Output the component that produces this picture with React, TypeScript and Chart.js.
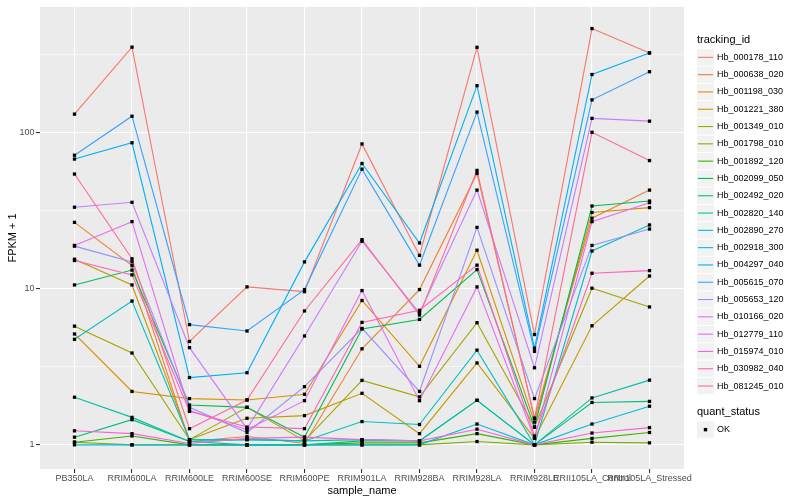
import React, { useEffect, useRef } from 'react';
import { Chart, registerables } from 'chart.js';

Chart.register(...registerables);

const samples = [
  'PB350LA', 'RRIM600LA', 'RRIM600LE', 'RRIM600SE', 'RRIM600PE', 'RRIM901LA',
  'RRIM928BA', 'RRIM928LA', 'RRIM928LE', 'RRII105LA_Control', 'RRII105LA_Stressed',
];

const trackingIds = [
  'Hb_000178_110', 'Hb_000638_020', 'Hb_001198_030', 'Hb_001221_380', 'Hb_001349_010',
  'Hb_001798_010', 'Hb_001892_120', 'Hb_002099_050', 'Hb_002492_020', 'Hb_002820_140',
  'Hb_002890_270', 'Hb_002918_300', 'Hb_004297_040', 'Hb_005615_070', 'Hb_005653_120',
  'Hb_010166_020', 'Hb_012779_110', 'Hb_015974_010', 'Hb_030982_040', 'Hb_081245_010',
];

const hb_000178_110 = [132, 355, 4.6, 10.3, 9.6, 85, 16.4, 354, 5.1, 467, 326];
const hb_000638_020 = [26.7, 14.1, 1.05, 1.13, 1.02, 4.13, 9.9, 55, 1.48, 28.4, 43];
const hb_001198_030 = [5.14, 2.2, 1.98, 1.94, 2.11, 8.43, 3.19, 17.7, 1.4, 30.9, 33.2];
const hb_001221_380 = [15.5, 10.6, 1.08, 1.48, 1.54, 2.14, 1.18, 3.35, 1.1, 5.8, 12.1];
const hb_001349_010 = [5.77, 3.88, 1.08, 1.74, 1.06, 2.59, 2.03, 6.07, 1.3, 10.1, 7.66];
const hb_001798_010 = [1.04, 1.0, 1.0, 1.0, 1.0, 1.0, 1.0, 1.05, 1.0, 1.04, 1.03];
const hb_001892_120 = [1.04, 1.14, 1.0, 1.0, 1.0, 1.03, 1.03, 1.18, 1.0, 1.1, 1.2];
const hb_002099_050 = [10.6, 13.2, 1.8, 1.74, 1.12, 5.53, 6.37, 13.3, 1.3, 34, 36.6];
const hb_002492_020 = [1.12, 1.45, 1.05, 1.0, 1.0, 1.06, 1.06, 1.93, 1.0, 1.87, 1.9];
const hb_002820_140 = [2.02, 1.5, 1.05, 1.08, 1.06, 1.08, 1.06, 1.93, 1.0, 2.0, 2.6];
const hb_002890_270 = [4.75, 8.36, 1.08, 1.08, 1.06, 1.41, 1.35, 4.05, 1.0, 17.5, 25.7];
const hb_002918_300 = [1.0, 1.0, 1.0, 1.0, 1.0, 1.0, 1.0, 1.36, 1.0, 1.36, 1.77];
const hb_004297_040 = [68, 86.5, 2.7, 2.9, 14.9, 63.7, 19.7, 201, 4.17, 237, 326];
const hb_005615_070 = [72, 128, 5.9, 5.37, 9.9, 58.6, 14.2, 136, 3.98, 163, 247];
const hb_005653_120 = [18.8, 14.9, 1.74, 1.2, 2.36, 5.58, 2.2, 24.8, 1.98, 19, 24.2];
const hb_010166_020 = [33.4, 35.9, 4.2, 1.27, 4.99, 20.2, 7.0, 43, 3.12, 124, 119];
const hb_012779_110 = [19, 27, 1.66, 1.25, 1.92, 9.76, 1.92, 10.3, 1.1, 27, 35.7];
const hb_015974_010 = [1.23, 1.18, 1.02, 1.1, 1.12, 1.08, 1.06, 1.26, 1.0, 1.19, 1.29];
const hb_030982_040 = [15.2, 12.3, 1.64, 1.3, 1.27, 6.1, 7.29, 14.2, 1.14, 12.6, 13.1];
const hb_081245_010 = [54.5, 15.6, 1.27, 1.94, 7.22, 20.7, 6.8, 57.5, 1.48, 101, 66.5];

const seriesValues = [
  hb_000178_110, hb_000638_020, hb_001198_030, hb_001221_380, hb_001349_010,
  hb_001798_010, hb_001892_120, hb_002099_050, hb_002492_020, hb_002820_140,
  hb_002890_270, hb_002918_300, hb_004297_040, hb_005615_070, hb_005653_120,
  hb_010166_020, hb_012779_110, hb_015974_010, hb_030982_040, hb_081245_010,
];

const seriesColors = [
  '#F8766D', '#EA8331', '#D89000', '#C09B00', '#A3A500', '#7CAE00', '#39B600',
  '#00BB4E', '#00BF7D', '#00C1A3', '#00BFC4', '#00BAE0', '#00B0F6', '#35A2FF',
  '#9590FF', '#C77CFF', '#E76BF3', '#FA62DB', '#FF62BC', '#FF6C91',
];

const yMajorTicks = [1, 10, 100];
const yMinorTicks = [3.1623, 31.623, 316.23];
const yTickLabels = ['1', '10', '100'];
const quantStatus = ['OK'];

const FONT = "'Liberation Sans', Arial, Helvetica, sans-serif";

const panelPlugin = {
  id: 'panelBg',
  beforeDraw(chart: any) {
    const { ctx, chartArea: a } = chart;
    ctx.save();
    ctx.fillStyle = '#EBEBEB';
    ctx.fillRect(a.left, a.top, a.right - a.left, a.bottom - a.top);
    ctx.restore();
  },
};

const pointsPlugin = {
  id: 'squarePoints',
  afterDatasetsDraw(chart: any) {
    const { ctx, chartArea: a } = chart;
    ctx.save();
    ctx.beginPath();
    ctx.rect(a.left, a.top, a.right - a.left, a.bottom - a.top);
    ctx.clip();
    ctx.fillStyle = '#000000';
    const s = 3.3;
    chart.data.datasets.forEach((_: any, i: number) => {
      const meta = chart.getDatasetMeta(i);
      meta.data.forEach((pt: any) => {
        ctx.fillRect(pt.x - s / 2, pt.y - s / 2, s, s);
      });
    });
    ctx.restore();
  },
};

const legendPlugin = {
  id: 'ggLegend',
  afterDraw(chart: any) {
    const { ctx } = chart;
    const x0 = 697;
    const keyW = 17;
    const pitch = 17.3;
    const top = 48.7;
    ctx.save();
    ctx.textBaseline = 'middle';
    ctx.textAlign = 'left';
    ctx.fillStyle = '#000000';
    ctx.font = `11px ${FONT}`;
    ctx.fillText('tracking_id', x0, 40);
    trackingIds.forEach((id, i) => {
      const y = top + i * pitch;
      ctx.fillStyle = '#F2F2F2';
      ctx.fillRect(x0, y + 0.5, keyW, pitch - 1);
      const cy = y + pitch / 2;
      ctx.strokeStyle = seriesColors[i];
      ctx.lineWidth = 1.1;
      ctx.beginPath();
      ctx.moveTo(x0 + 1, cy);
      ctx.lineTo(x0 + keyW - 1, cy);
      ctx.stroke();
      ctx.fillStyle = '#000000';
      ctx.font = `9px ${FONT}`;
      ctx.fillText(id, 717, cy);
    });
    ctx.font = `11px ${FONT}`;
    ctx.fillStyle = '#000000';
    ctx.fillText('quant_status', x0, 412);
    quantStatus.forEach((q, i) => {
      const y = 421 + i * pitch;
      ctx.fillStyle = '#F2F2F2';
      ctx.fillRect(x0, y + 0.5, keyW, pitch - 1);
      const cy = y + pitch / 2;
      ctx.fillStyle = '#000000';
      ctx.fillRect(x0 + keyW / 2 - 1.7, cy - 1.7, 3.4, 3.4);
      ctx.font = `9px ${FONT}`;
      ctx.fillText(q, 717, cy);
    });
    ctx.restore();
  },
};

export default function App() {
  const canvasRef = useRef<HTMLCanvasElement | null>(null);

  useEffect(() => {
    if (!canvasRef.current) return;
    const datasets = trackingIds.map((id, i) => ({
      label: id,
      data: seriesValues[i].map((v, j) => ({ x: j, y: v })),
      borderColor: seriesColors[i],
      backgroundColor: seriesColors[i],
      borderWidth: 1.1,
      pointRadius: 0,
      pointHoverRadius: 0,
      tension: 0,
      fill: false,
      order: trackingIds.length - 1 - i,
    }));

    const chart = new Chart(canvasRef.current, {
      type: 'line',
      data: { datasets },
      options: {
        animation: false,
        responsive: true,
        maintainAspectRatio: false,
        events: [],
        layout: { padding: { top: 5, right: 116, left: 0, bottom: 0 } },
        plugins: {
          legend: { display: false },
          tooltip: { enabled: false },
        },
        scales: {
          x: {
            type: 'linear',
            min: -0.6,
            max: 10.6,
            afterBuildTicks: (s: any) => {
              s.ticks = samples.map((_, i) => ({ value: i }));
            },
            afterFit: (s: any) => {
              s.height = 31;
            },
            ticks: {
              callback: (v: any) => samples[v as number] ?? '',
              autoSkip: false,
              maxRotation: 0,
              minRotation: 0,
              color: '#4D4D4D',
              font: { family: FONT, size: 9 },
              padding: 0,
            },
            grid: {
              color: '#FFFFFF',
              lineWidth: 1.1,
              offset: false,
              drawTicks: true,
              tickLength: 4,
              tickColor: '#333333',
              tickWidth: 1.1,
            },
            border: { display: false },
            title: {
              display: true,
              text: 'sample_name',
              color: '#000000',
              font: { family: FONT, size: 11 },
              padding: { top: 0, bottom: 2.4 },
            },
          },
          y: {
            type: 'logarithmic',
            min: 0.728,
            max: 643,
            afterBuildTicks: (s: any) => {
              s.ticks = [...yMajorTicks, ...yMinorTicks]
                .sort((a, b) => a - b)
                .map((v) => ({ value: v }));
            },
            afterFit: (s: any) => {
              s.width = 40;
            },
            ticks: {
              callback: (v: any) => {
                const idx = yMajorTicks.indexOf(v as number);
                return idx >= 0 ? yTickLabels[idx] : '';
              },
              autoSkip: false,
              color: '#4D4D4D',
              font: { family: FONT, size: 9 },
              padding: 1.5,
            },
            grid: {
              color: '#FFFFFF',
              lineWidth: (c: any) => (c.tick && yMajorTicks.includes(c.tick.value) ? 1.1 : 0.55),
              drawTicks: true,
              tickLength: 4,
              tickColor: (c: any) =>
                c.tick && yMajorTicks.includes(c.tick.value) ? '#333333' : 'rgba(0,0,0,0)',
              tickWidth: 1.1,
            },
            border: { display: false },
            title: {
              display: true,
              text: 'FPKM + 1',
              color: '#000000',
              font: { family: FONT, size: 11 },
              padding: { top: 6.4, bottom: 0 },
            },
          },
        },
      } as any,
      plugins: [panelPlugin, pointsPlugin, legendPlugin],
    });

    return () => {
      chart.destroy();
    };
  }, []);

  return (
    <div style={{ position: 'fixed', left: 0, top: 0, width: 800, height: 500, background: '#FFFFFF' }}>
      <canvas ref={canvasRef} style={{ display: 'block' }} />
    </div>
  );
}
